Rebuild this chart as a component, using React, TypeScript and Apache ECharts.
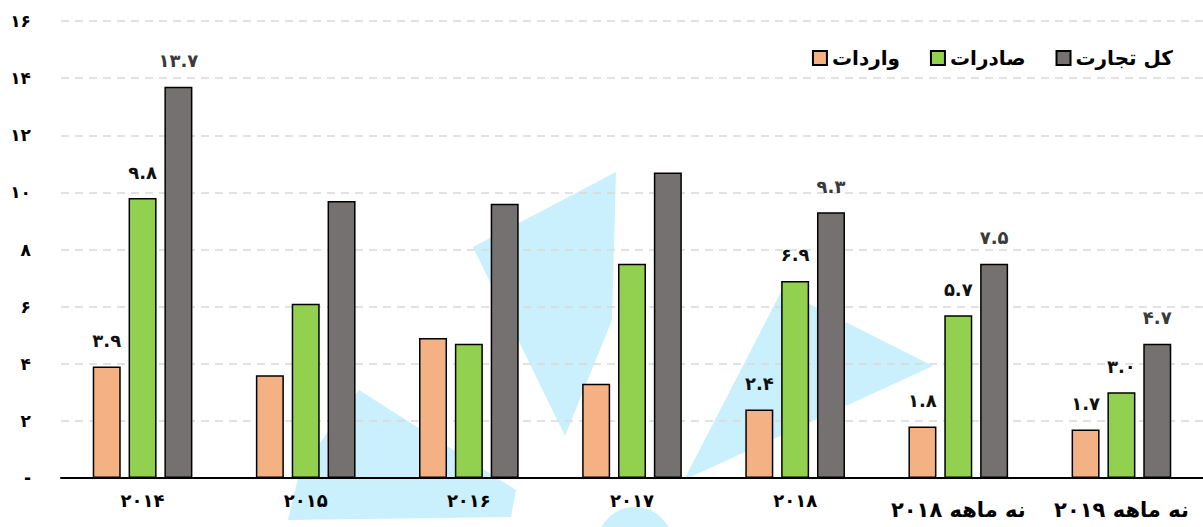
import React, { useEffect, useRef } from "react";
import * as echarts from "echarts";

const categories = ["۲۰۱۴", "۲۰۱۵", "۲۰۱۶", "۲۰۱۷", "۲۰۱۸", "نه ماهه ۲۰۱۸", "نه ماهه ۲۰۱۹"];
const seriesNames = ["واردات", "صادرات", "کل تجارت"];
const imports = [3.9, 3.6, 4.9, 3.3, 2.4, 1.8, 1.7];
const exportsData = [9.8, 6.1, 4.7, 7.5, 6.9, 5.7, 3.0];
const totalTrade = [13.7, 9.7, 9.6, 10.7, 9.3, 7.5, 4.7];
const labeledCategories = [0, 4, 5, 6];
const yTicks = [0, 2, 4, 6, 8, 10, 12, 14, 16];

const colors = ["#f4b183", "#92d050", "#767171"];
const labelColors = ["#111111", "#111111", "#3a3a3a"];
const FONT = "DejaVu Sans";

const faDigits = (s: string) => s.replace(/[0-9]/g, (d) => "۰۱۲۳۴۵۶۷۸۹"[Number(d)]);
const fmtVal = (v: number) => faDigits(v.toFixed(1));

export default function App() {
  const ref = useRef<HTMLDivElement>(null);
  useEffect(() => {
    if (!ref.current) return;
    const chart = echarts.init(ref.current, undefined, { renderer: "svg" });
    const all = [imports, exportsData, totalTrade];
    const series = all.map((arr, si) => ({
      name: seriesNames[si],
      type: "bar",
      barWidth: 28,
      barGap: "28%",
      itemStyle: { color: colors[si], borderColor: "#000", borderWidth: 1.5 },
      label: {
        show: false,
        position: "top",
        distance: 17,
        fontFamily: FONT,
        fontWeight: "bold",
        fontSize: 18,
        color: labelColors[si],
        formatter: (p: any) => fmtVal(p.value),
      },
      data: arr.map((v, i) => ({
        value: v,
        label: { show: labeledCategories.includes(i) },
      })),
      z: 3,
    }));
    const wm = "rgba(165, 230, 250, 0.6)";
    chart.setOption({
      animation: false,
      backgroundColor: "#fff",
      grid: { left: 61, top: 21, width: 1144, bottom: 49 },
      legend: {
        data: seriesNames,
        right: 30,
        top: 48,
        padding: 0,
        itemWidth: 14,
        itemHeight: 14,
        itemGap: 30,
        icon: "rect",
        textStyle: { fontFamily: FONT, fontWeight: "bold", fontSize: 20, color: "#000" },
      },
      graphic: [
        { type: "polygon", z: -10, shape: { points: [[473, 247], [616, 172], [612, 320], [565, 436]] }, style: { fill: wm } },
        { type: "polygon", z: -10, shape: { points: [[782, 290], [933, 366], [684, 480]] }, style: { fill: wm } },
        { type: "polygon", z: -10, shape: { points: [[359, 390], [516, 490], [511, 517], [288, 520], [300, 470]] }, style: { fill: wm } },
        { type: "circle", z: -10, shape: { cx: 635, cy: 545, r: 38 }, style: { fill: wm } },
      ],
      xAxis: {
        type: "category",
        data: categories,
        axisLine: { lineStyle: { color: "#000", width: 2 } },
        axisTick: { show: false },
        axisLabel: {
          margin: 13,
          interval: 0,
          formatter: (v: string) => (v.includes("ماهه") ? "{b|" + v + "}" : "{a|" + v + "}"),
          rich: {
            a: { fontFamily: FONT, fontWeight: "bold", fontSize: 18, color: "#000" },
            b: { fontFamily: FONT, fontWeight: "bold", fontSize: 21, color: "#000", padding: [8, 0, 0, 0] },
          },
        },
      },
      yAxis: {
        type: "value",
        min: yTicks[0],
        max: yTicks[yTicks.length - 1],
        interval: 2,
        axisLine: { show: false },
        axisTick: { show: false },
        axisLabel: {
          margin: 30,
          fontFamily: FONT,
          fontWeight: "bold",
          fontSize: 17,
          color: "#000",
          formatter: (v: number) => (v === 0 ? "-" : faDigits(String(v))),
        },
        splitLine: { lineStyle: { color: "#d9d9d9", type: [8, 6], width: 1.5 } },
      },
      series,
    });
    return () => chart.dispose();
  }, []);
  return (
    <div
      ref={ref}
      style={{ position: "absolute", left: 0, top: 0, width: 1203, height: 527, overflow: "hidden" }}
    />
  );
}
